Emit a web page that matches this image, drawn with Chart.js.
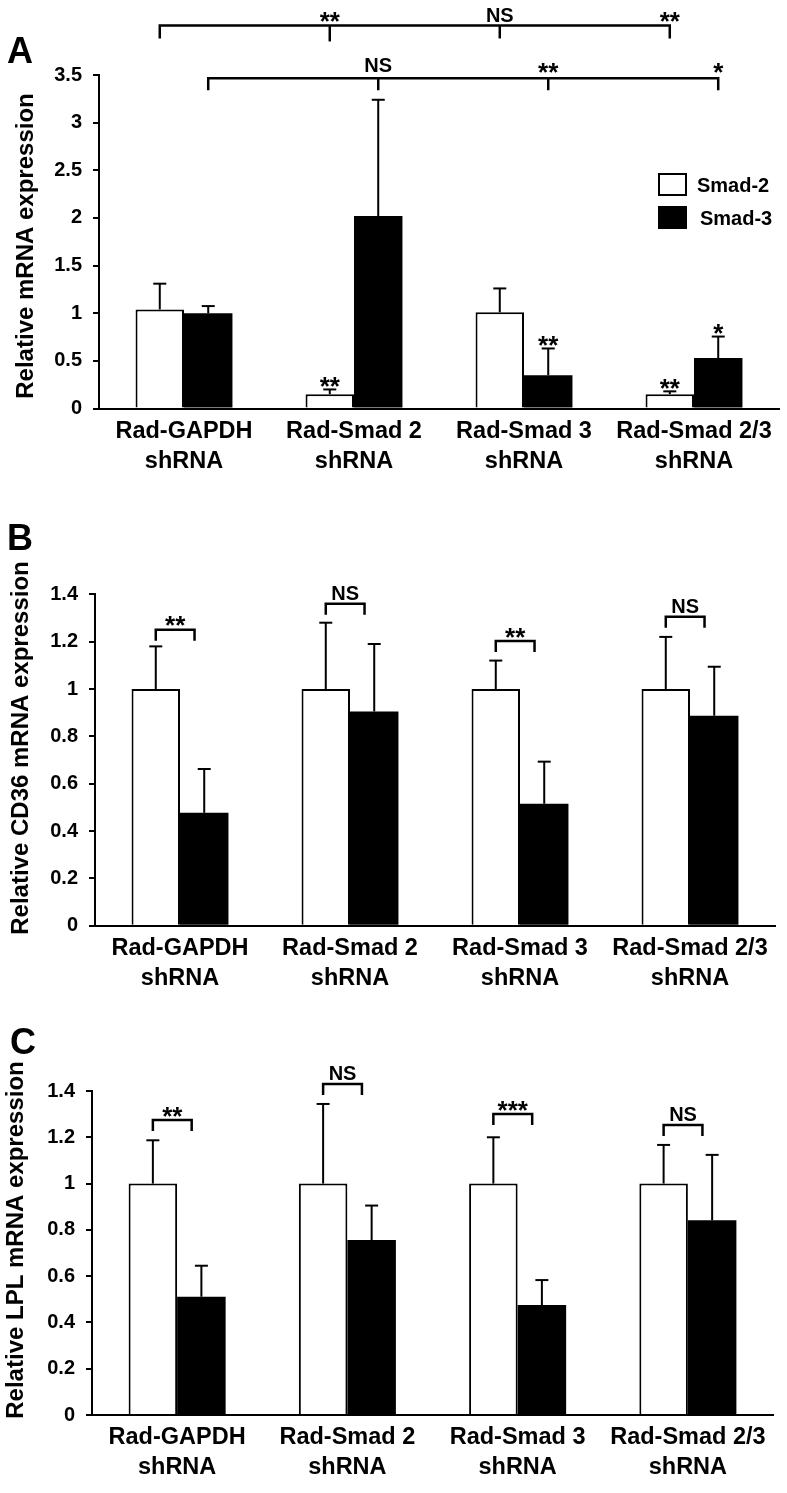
<!DOCTYPE html>
<html>
<head>
<meta charset="utf-8">
<script src="https://cdn.jsdelivr.net/npm/chart.js@4.4.1/dist/chart.umd.min.js"></script>
<style>
  body { margin: 0; background: #fff; width: 787px; height: 1493px; position: relative; overflow: hidden; }
  canvas { position: absolute; left: 0; }
</style>
</head>
<body>
<canvas id="cA" width="787" height="480" style="top:0px"></canvas>
<canvas id="cB" width="787" height="520" style="top:480px"></canvas>
<canvas id="cC" width="787" height="493" style="top:1000px"></canvas>
<script>
// ---------- Data ----------
const groups = [
  ["Rad-GAPDH", "shRNA"],
  ["Rad-Smad 2", "shRNA"],
  ["Rad-Smad 3", "shRNA"],
  ["Rad-Smad 2/3", "shRNA"],
];
const seriesNames = ["Smad-2", "Smad-3"];

// panel A - relative mRNA expression
const aSmad2 = [1.04, 0.15, 1.01, 0.15];
const aSmad2Err = [0.27, 0.05, 0.25, 0.03];
const aSmad3 = [1.0, 2.02, 0.35, 0.53];
const aSmad3Err = [0.075, 1.22, 0.28, 0.225];
const aTicks = [0, 0.5, 1, 1.5, 2, 2.5, 3, 3.5];
const aStars2 = ["", "**", "", "**"];
const aStars3 = ["", "", "**", "*"];
const aTopLabels = ["**", "NS", "**"];
const aMidLabels = ["NS", "**", "*"];
const aTopLevel = 4.02;
const aMidLevel = 3.466;

// panel B - CD36
const bSmad2 = [1, 1, 1, 1];
const bSmad2Err = [0.18, 0.28, 0.12, 0.22];
const bSmad3 = [0.477, 0.905, 0.515, 0.887];
const bSmad3Err = [0.185, 0.285, 0.178, 0.207];
const bSig = ["**", "NS", "**", "NS"];
const bSigLevel = [1.25, 1.36, 1.203, 1.305];

// panel C - LPL
const cSmad2 = [1, 1, 1, 1];
const cSmad2Err = [0.187, 0.344, 0.2, 0.167];
const cSmad3 = [0.511, 0.756, 0.475, 0.841];
const cSmad3Err = [0.134, 0.149, 0.108, 0.283];
const cSig = ["**", "NS", "***", "NS"];
const cSigLevel = [1.275, 1.43, 1.301, 1.253];

const bcTicks = [0, 0.2, 0.4, 0.6, 0.8, 1, 1.2, 1.4];

// ---------- Helpers ----------
const FONT = "'Liberation Sans', Arial, Helvetica, sans-serif";

function $(id) {
  return document.getElementById(id);
}

// text centred (visually) on yc; stars are drawn larger like the figure
function sigText(ctx, txt, x, yc) {
  const star = txt.indexOf("*") >= 0;
  const size = star ? 26 : 20;
  ctx.font = "bold " + size + "px " + FONT;
  ctx.textAlign = "center";
  ctx.textBaseline = "alphabetic";
  ctx.fillText(txt, x, yc + (star ? 0.6 : 0.36) * size);
}

function line(ctx, pts) {
  ctx.beginPath();
  ctx.moveTo(pts[0][0], pts[0][1]);
  for (let k = 1; k < pts.length; k++) ctx.lineTo(pts[k][0], pts[k][1]);
  ctx.stroke();
}

// ---------- Panel plugin (error bars, brackets, titles) ----------
function decor(p) {
  return {
    id: "decor" + p.letter,
    afterDatasetsDraw(chart) {
      const ctx = chart.ctx;
      const y = chart.scales.y;
      ctx.save();
      ctx.strokeStyle = "#000";
      ctx.lineWidth = 2;
      [p.e2, p.e3].forEach((errs, d) => {
        const vals = chart.data.datasets[d].data;
        chart.getDatasetMeta(d).data.forEach((bar, i) => {
          const top = y.getPixelForValue(vals[i] + errs[i]);
          line(ctx, [[bar.x, bar.y], [bar.x, top]]);
          line(ctx, [[bar.x - 6.5, top], [bar.x + 6.5, top]]);
        });
      });
      ctx.restore();
    },
    afterDraw(chart) {
      const ctx = chart.ctx;
      const y = chart.scales.y;
      const ca = chart.chartArea;
      const white = chart.getDatasetMeta(0).data;
      const black = chart.getDatasetMeta(1).data;
      ctx.save();
      ctx.fillStyle = "#000";
      ctx.strokeStyle = "#000";

      // panel letter
      ctx.font = "bold 36px " + FONT;
      ctx.textAlign = "left";
      ctx.textBaseline = "alphabetic";
      ctx.fillText(p.letter, p.letterX, p.letterY);

      // y title
      ctx.save();
      ctx.translate(p.titleX, p.titleY);
      ctx.rotate(-Math.PI / 2);
      ctx.font = "bold 24px " + FONT;
      ctx.textAlign = "center";
      ctx.textBaseline = "middle";
      ctx.fillText(p.title, 0, 0);
      ctx.restore();

      if (p.letter === "A") {
        // stars over single bars
        [[aStars2, 0, aSmad2, aSmad2Err], [aStars3, 1, aSmad3, aSmad3Err]].forEach(
          ([stars, d, vals, errs]) => {
            const bars = chart.getDatasetMeta(d).data;
            stars.forEach((s, i) => {
              if (!s) return;
              sigText(ctx, s, bars[i].x, y.getPixelForValue(vals[i] + errs[i]) - 10);
            });
          }
        );
        // top bracket: Smad-2 bars
        ctx.lineWidth = 2.5;
        let yl = y.getPixelForValue(aTopLevel);
        line(ctx, [[white[0].x, yl + 13], [white[0].x, yl], [white[3].x, yl], [white[3].x, yl + 13]]);
        line(ctx, [[white[1].x, yl], [white[1].x, yl + 16]]);
        line(ctx, [[white[2].x, yl], [white[2].x, yl + 13]]);
        aTopLabels.forEach((t, k) => sigText(ctx, t, white[k + 1].x, yl - 11));
        // second bracket: Smad-3 bars
        yl = y.getPixelForValue(aMidLevel);
        line(ctx, [[black[0].x, yl + 12], [black[0].x, yl], [black[3].x, yl], [black[3].x, yl + 12]]);
        line(ctx, [[black[1].x, yl], [black[1].x, yl + 12]]);
        line(ctx, [[black[2].x, yl], [black[2].x, yl + 12]]);
        aMidLabels.forEach((t, k) => sigText(ctx, t, black[k + 1].x, yl - 13));

        // legend
        const lx = ca.right - 121;
        ctx.lineWidth = 2;
        ctx.fillStyle = "#fff";
        ctx.fillRect(lx, 173, 29, 23);
        ctx.strokeRect(lx + 1, 174, 27, 21);
        ctx.fillStyle = "#000";
        ctx.fillRect(lx, 206, 29, 23);
        ctx.font = "bold 20px " + FONT;
        ctx.textAlign = "left";
        ctx.textBaseline = "alphabetic";
        ctx.fillText(seriesNames[0], lx + 39, 192);
        ctx.fillText(seriesNames[1], lx + 42, 225);
      } else {
        ctx.lineWidth = 2.5;
        p.sig.forEach((t, i) => {
          const x1 = white[i].x;
          const x2 = white[i].x + 0.8 * white[i].width;
          const yl = y.getPixelForValue(p.level[i]);
          line(ctx, [[x1, yl + 11], [x1, yl], [x2, yl], [x2, yl + 11]]);
          sigText(ctx, t, (x1 + x2) / 2, yl - 11);
        });
      }
      ctx.restore();
    },
  };
}

// ---------- Chart factory ----------
function makePanel(p) {
  return new Chart($(p.id), {
    type: "bar",
    data: {
      labels: groups,
      datasets: [
        {
          label: seriesNames[0],
          data: p.s2,
          backgroundColor: "#fff",
          borderColor: "#000",
          borderWidth: 2,
          borderSkipped: "bottom",
        },
        {
          label: seriesNames[1],
          data: p.s3,
          backgroundColor: "#000",
          borderColor: "#000",
          borderWidth: 0,
        },
      ],
    },
    options: {
      responsive: false,
      animation: false,
      devicePixelRatio: 1,
      layout: { padding: { left: 0, right: p.padRight, top: p.padTop, bottom: 0 } },
      datasets: { bar: { categoryPercentage: 0.57, barPercentage: 1 } },
      plugins: { legend: { display: false }, tooltip: { enabled: false } },
      scales: {
        x: {
          z: 1,
          grid: { display: false, drawTicks: false },
          border: { color: "#000", width: 2 },
          ticks: {
            color: "#000",
            padding: 8,
            maxRotation: 0,
            autoSkip: false,
            font: { family: FONT, size: 23.5, weight: "bold", lineHeight: 1.27 },
          },
          afterFit: (s) => {
            s.height = p.xHeight;
          },
        },
        y: {
          min: p.ticks[0],
          max: p.ticks[p.ticks.length - 1],
          grid: { drawOnChartArea: false, drawTicks: true, tickLength: 6, color: "#000", lineWidth: 2 },
          border: { color: "#000", width: 2 },
          afterBuildTicks: (s) => {
            s.ticks = p.ticks.map((v) => ({ value: v }));
          },
          ticks: {
            color: "#000",
            padding: 11,
            font: { family: FONT, size: 20, weight: "bold" },
            callback: (v) => String(+Number(v).toFixed(2)),
          },
          afterFit: (s) => {
            s.width = p.left;
          },
        },
      },
    },
    plugins: [decor(p)],
  });
}

// ---------- Panels ----------
makePanel({
  id: "cA", letter: "A", letterX: 7, letterY: 63,
  title: "Relative mRNA expression", titleX: 26, titleY: 246,
  s2: aSmad2, e2: aSmad2Err, s3: aSmad3, e3: aSmad3Err, ticks: aTicks,
  left: 99, padRight: 8, padTop: 75, xHeight: 71.5,
});

makePanel({
  id: "cB", letter: "B", letterX: 7, letterY: 70,
  title: "Relative CD36 mRNA expression", titleX: 21, titleY: 268,
  s2: bSmad2, e2: bSmad2Err, s3: bSmad3, e3: bSmad3Err, ticks: bcTicks,
  sig: bSig, level: bSigLevel,
  left: 95, padRight: 12, padTop: 114.3, xHeight: 74.3,
});

makePanel({
  id: "cC", letter: "C", letterX: 10, letterY: 54,
  title: "Relative LPL mRNA expression", titleX: 16, titleY: 240,
  s2: cSmad2, e2: cSmad2Err, s3: cSmad3, e3: cSmad3Err, ticks: bcTicks,
  sig: cSig, level: cSigLevel,
  left: 92, padRight: 14, padTop: 91, xHeight: 78,
});
</script>
</body>
</html>
